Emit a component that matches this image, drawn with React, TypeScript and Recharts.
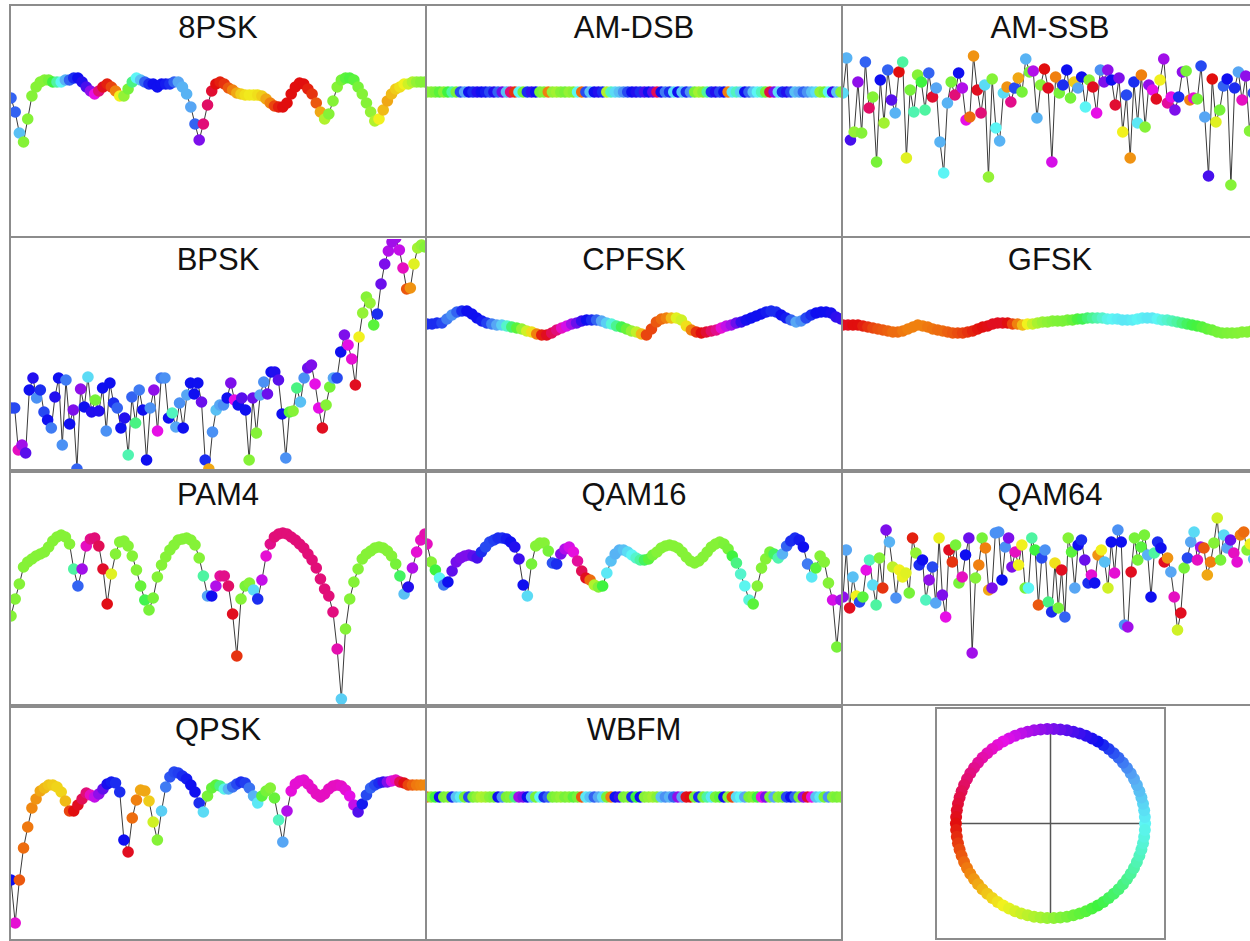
import { LineChart, Line, XAxis, YAxis, ScatterChart, Scatter, ReferenceLine } from 'recharts';

// amplitude is in plot pixels above the panel floor, hue in degrees (phase colour)

const PSK8_AMP = [
  136, 122, 101, 92, 115, 138, 147, 152, 154, 154,
  152, 152, 152, 154, 154, 156, 156, 152, 147, 143,
  140, 143, 147, 150, 147, 143, 138, 138, 145, 152,
  156, 154, 152, 150, 150, 147, 150, 150, 150, 152,
  152, 147, 140, 127, 110, 94, 110, 129, 143, 150,
  152, 150, 146, 144, 141, 140, 139, 139, 139, 139,
  138, 135, 131, 128, 127, 127, 131, 140, 147, 151,
  150, 145, 140, 131, 122, 115, 120, 133, 147, 154,
  156, 156, 154, 147, 140, 131, 122, 113, 115, 124,
  133, 140, 145, 147, 150, 150, 152, 152, 152, 152,
];
const PSK8_HUE = [
  225, 225, 200, 95, 95, 95, 95, 95, 95, 100,
  120, 150, 180, 205, 225, 235, 240, 245, 255, 275,
  300, 330, 355, 5, 15, 30, 60, 90, 100, 140,
  180, 200, 225, 235, 240, 240, 240, 238, 235, 225,
  210, 205, 205, 210, 225, 270, 330, 335, 350, 0,
  5, 10, 20, 30, 40, 50, 55, 58, 58, 55,
  50, 40, 30, 15, 5, 0, 0, 0, 0, 0,
  0, 5, 10, 20, 40, 80, 95, 95, 95, 100,
  110, 115, 110, 100, 95, 95, 90, 80, 60, 45,
  40, 45, 50, 55, 60, 70, 80, 90, 95, 95,
];

const AMDSB_AMP = [
  142, 142, 142, 142, 142, 142, 142, 142, 142, 142,
  142, 142, 142, 142, 142, 142, 142, 142, 142, 142,
  142, 142, 142, 142, 142, 142, 142, 142, 142, 142,
  142, 142, 142, 142, 142, 142, 142, 142, 142, 142,
  142, 142, 142, 142, 142, 142, 142, 142, 142, 142,
  142, 142, 142, 142, 142, 142, 142, 142, 142, 142,
  142, 142, 142, 142, 142, 142, 142, 142, 142, 142,
  142, 142, 142, 142, 142, 142, 142, 142, 142, 142,
  142, 142, 142, 142, 142, 142, 142, 142, 142, 142,
  142, 142, 142, 142, 142, 142, 142, 142, 142, 142,
];
const AMDSB_HUE = [
  95, 95, 100, 110, 95, 120, 150, 100, 230, 210,
  240, 235, 245, 240, 238, 230, 245, 225, 265, 200,
  330, 10, 180, 100, 235, 250, 240, 100, 95, 30,
  90, 85, 95, 100, 90, 95, 180, 25, 230, 200,
  240, 245, 235, 80, 160, 190, 200, 215, 230, 240,
  245, 235, 255, 240, 260, 340, 240, 220, 235, 190,
  240, 200, 235, 215, 100, 85, 95, 150, 235, 245,
  230, 240, 30, 185, 160, 195, 240, 225, 200, 180,
  160, 100, 345, 270, 190, 235, 245, 230, 200, 210,
  225, 215, 200, 190, 90, 100, 180, 250, 200, 95,
];

const AMSSB_AMP = [
  141, 176, 94, 102, 152, 101, 172, 126, 137, 72,
  154, 111, 164, 134, 121, 162, 172, 76, 144, 122,
  159, 152, 124, 161, 137, 146, 92, 61, 131, 152,
  139, 161, 146, 114, 117, 178, 144, 121, 149, 57,
  155, 106, 93, 141, 147, 132, 146, 156, 142, 175,
  162, 163, 116, 149, 165, 146, 72, 157, 141, 149,
  164, 136, 152, 146, 157, 127, 154, 147, 121, 164,
  152, 164, 154, 129, 156, 102, 139, 76, 152, 111,
  159, 107, 149, 144, 135, 154, 175, 131, 137, 124,
  137, 162, 163, 134, 136, 135, 168, 117, 58, 155,
  112, 124, 148, 155, 49, 146, 162, 134, 158, 103,
  141, 150,
];
const AMSSB_HUE = [
  190, 205, 255, 90, 275, 95, 225, 335, 95, 100,
  240, 85, 225, 260, 205, 0, 150, 65, 100, 155,
  95, 120, 150, 225, 350, 210, 205, 180, 205, 100,
  330, 240, 285, 300, 25, 35, 355, 330, 190, 90,
  95, 180, 205, 190, 35, 325, 230, 40, 100, 205,
  100, 285, 205, 95, 0, 355, 295, 30, 100, 235,
  240, 100, 50, 210, 240, 180, 95, 355, 300, 215,
  270, 275, 240, 350, 270, 60, 230, 35, 235, 185,
  30, 95, 275, 300, 355, 60, 280, 320, 300, 270,
  235, 275, 100, 30, 305, 100, 230, 210, 255, 0,
  65, 100, 225, 240, 95, 235, 210, 310, 275, 95,
  230, 200,
];

const BPSK_AMP = [
  61, 61, 19, 24, 16, 79, 91, 71, 79, 57,
  49, 41, 72, 91, 24, 89, 45, 59, 0, 80,
  62, 92, 57, 69, 58, 81, 38, 86, 66, 61,
  41, 51, 14, 72, 46, 79, 59, 9, 61, 79,
  38, 91, 91, 51, 56, 42, 66, 41, 74, 86,
  75, 86, 67, 9, 0, 37, 59, 64, 64, 71,
  86, 69, 64, 71, 59, 9, 71, 36, 74, 87,
  75, 97, 97, 89, 55, 11, 57, 58, 81, 67,
  91, 101, 104, 85, 61, 41, 64, 82, 91, 91,
  117, 134, 124, 110, 84, 132, 156, 172, 166, 144,
  155, 185, 205, 218, 227, 231, 219, 201, 180, 181,
  205, 221, 224, 222,
];
const BPSK_HUE = [
  230, 230, 310, 280, 260, 240, 245, 215, 235, 230,
  240, 220, 245, 240, 215, 220, 240, 270, 225, 275,
  240, 190, 245, 100, 245, 240, 215, 240, 235, 225,
  240, 245, 155, 225, 140, 220, 240, 240, 215, 275,
  300, 220, 215, 240, 160, 210, 215, 240, 210, 240,
  240, 240, 265, 235, 40, 215, 200, 210, 215, 240,
  270, 300, 240, 260, 240, 95, 265, 95, 210, 215,
  265, 240, 245, 260, 240, 215, 110, 95, 140, 200,
  215, 265, 270, 300, 300, 355, 95, 100, 210, 230,
  240, 270, 300, 305, 355, 60, 90, 95, 90, 110,
  235, 265, 270, 285, 280, 280, 290, 310, 20, 35,
  65, 85, 90, 95,
];

const CPFSK_AMP = [
  145, 145, 146, 146, 150, 154, 157, 158, 158, 155,
  151, 148, 146, 145, 144, 144, 143, 142, 141, 140,
  138, 137, 135, 134, 134, 136, 139, 141, 143, 145,
  146, 148, 149, 149, 149, 148, 146, 145, 143, 142,
  140, 138, 137, 135, 134, 140, 147, 150, 151, 151,
  151, 149, 143, 139, 137, 136, 137, 138, 139, 141,
  143, 144, 146, 147, 149, 151, 153, 155, 157, 158,
  157, 154, 151, 149, 147, 148, 151, 154, 156, 157,
  157, 156, 152, 150,
];
const CPFSK_HUE = [
  235, 235, 235, 230, 220, 215, 225, 235, 240, 240,
  240, 238, 232, 220, 210, 195, 165, 135, 110, 90,
  70, 55, 30, 5, 355, 340, 330, 310, 295, 280,
  265, 250, 240, 235, 225, 210, 195, 170, 145, 125,
  105, 90, 75, 45, 15, 15, 20, 25, 30, 45,
  65, 70, 55, 30, 10, 0, 350, 335, 325, 305,
  290, 280, 265, 250, 242, 240, 240, 240, 238, 235,
  235, 240, 238, 225, 210, 215, 230, 235, 240, 240,
  240, 242, 248, 250,
];

const GFSK_AMP = [
  144, 144, 144, 144, 143, 142, 141, 140, 139, 138,
  137, 137, 138, 140, 142, 144, 143, 142, 140, 139,
  138, 137, 136, 136, 136, 137, 138, 140, 142, 143,
  145, 146, 146, 146, 145, 145, 144, 145, 145, 146,
  147, 147, 148, 148, 148, 149, 149, 150, 150, 151,
  151, 151, 151, 150, 150, 150, 149, 149, 149, 150,
  151, 151, 151, 150, 149, 149, 148, 147, 146, 145,
  144, 143, 142, 140, 139, 137, 136, 136, 136, 136,
  137, 137, 138, 138,
];
const GFSK_HUE = [
  355, 355, 0, 0, 5, 10, 15, 18, 20, 22,
  25, 25, 28, 30, 30, 30, 30, 28, 27, 25,
  25, 22, 20, 17, 14, 10, 6, 2, 0, 358,
  355, 355, 355, 0, 15, 30, 45, 60, 72, 82,
  88, 92, 95, 97, 98, 100, 105, 115, 125, 135,
  145, 155, 165, 175, 180, 183, 185, 185, 183, 180,
  182, 185, 185, 180, 172, 165, 158, 150, 140, 130,
  123, 118, 112, 108, 104, 101, 100, 98, 97, 96,
  95, 95, 95, 95,
];

const PAM4_AMP = [
  88, 105, 120, 137, 142, 145, 148, 150, 152, 157,
  163, 167, 169, 167, 160, 135, 118, 135, 158, 165,
  166, 158, 135, 100, 130, 150, 162, 163, 158, 148,
  134, 118, 104, 94, 106, 127, 139, 147, 154, 159,
  164, 165, 166, 164, 159, 146, 128, 108, 108, 118,
  128, 128, 118, 90, 48, 105, 118, 121, 114, 105,
  124, 148, 160, 167, 170, 171, 170, 167, 164, 160,
  156, 150, 144, 136, 125, 115, 108, 92, 55, 5,
  75, 105, 122, 135, 145, 150, 153, 156, 157, 156,
  153, 148, 140, 128, 110, 117, 136, 152, 164, 170,
];
const PAM4_HUE = [
  95, 95, 95, 95, 95, 95, 95, 95, 95, 95,
  95, 95, 95, 95, 95, 150, 225, 280, 310, 325,
  330, 340, 352, 358, 65, 95, 95, 95, 95, 95,
  95, 105, 125, 100, 100, 95, 95, 95, 95, 95,
  95, 95, 95, 95, 95, 95, 150, 210, 240, 285,
  320, 325, 335, 355, 10, 95, 100, 95, 190, 235,
  290, 305, 325, 330, 330, 330, 330, 330, 330, 330,
  330, 330, 330, 330, 330, 330, 330, 328, 315, 195,
  95, 95, 95, 95, 95, 95, 95, 95, 95, 95,
  95, 95, 100, 130, 200, 245, 285, 305, 310, 315,
];

const QAM16_AMP = [
  160, 142, 134, 126, 119, 122, 133, 142, 146, 148,
  149, 148, 146, 152, 157, 162, 164, 166, 166, 165,
  162, 157, 145, 119, 108, 140, 158, 161, 161, 153,
  141, 140, 150, 155, 157, 152, 143, 133, 126, 124,
  119, 117, 118, 131, 143, 150, 154, 154, 152, 149,
  146, 144, 144, 145, 149, 152, 156, 158, 159, 158,
  156, 152, 147, 143, 141, 143, 147, 152, 157, 160,
  162, 160, 155, 148, 141, 130, 118, 104, 100, 118,
  136, 145, 152, 150, 146, 150, 158, 163, 166, 164,
  157, 140, 127, 136, 148, 142, 121, 104, 57, 104,
];
const QAM16_HUE = [
  310, 95, 120, 180, 220, 240, 262, 268, 270, 270,
  270, 262, 255, 235, 230, 230, 232, 235, 235, 238,
  240, 245, 252, 240, 190, 100, 95, 95, 95, 100,
  228, 235, 270, 285, 295, 302, 320, 340, 355, 25,
  80, 95, 120, 185, 200, 205, 205, 200, 190, 180,
  165, 150, 130, 110, 100, 95, 95, 95, 95, 95,
  95, 95, 95, 95, 95, 95, 95, 95, 95, 95,
  95, 98, 100, 120, 140, 165, 178, 170, 110, 95,
  95, 95, 100, 130, 155, 205, 225, 235, 235, 238,
  240, 220, 185, 110, 95, 95, 95, 295, 100, 280,
];

const QAM64_AMP = [
  107, 154, 96, 127, 108, 102, 107, 134, 144, 119,
  99, 146, 116, 174, 162, 137, 106, 134, 127, 131,
  111, 166, 151, 139, 144, 104, 124, 137, 101, 166,
  109, 87, 154, 142, 159, 121, 127, 149, 166, 51,
  126, 139, 166, 156, 114, 116, 171, 172, 124, 157,
  166, 137, 152, 139, 159, 116, 116, 166, 154, 99,
  146, 154, 102, 92, 141, 96, 134, 87, 166, 152,
  116, 159, 164, 144, 121, 129, 121, 149, 154, 142,
  116, 162, 131, 174, 162, 79, 77, 132, 166, 144,
  157, 169, 149, 107, 151, 162, 156, 142, 146, 132,
  107, 74, 91, 136, 146, 162, 172, 144, 157, 156,
  129, 142, 161, 186, 144, 169, 156, 164, 151, 142,
  169, 172, 154, 160, 145, 150,
];
const QAM64_HUE = [
  275, 210, 355, 200, 60, 230, 110, 300, 160, 190,
  150, 95, 10, 270, 205, 75, 215, 60, 62, 65,
  100, 5, 90, 235, 240, 160, 275, 230, 210, 62,
  270, 300, 355, 10, 100, 100, 310, 240, 265, 280,
  95, 30, 100, 30, 40, 270, 215, 215, 240, 215,
  270, 270, 310, 60, 60, 100, 180, 150, 120, 20,
  230, 215, 140, 235, 55, 100, 355, 225, 95, 110,
  210, 240, 235, 265, 235, 305, 240, 35, 60, 200,
  70, 240, 305, 215, 240, 215, 280, 355, 100, 100,
  110, 100, 205, 240, 150, 235, 240, 355, 35, 210,
  310, 70, 355, 100, 230, 210, 190, 310, 280, 20,
  40, 30, 95, 70, 100, 190, 210, 265, 310, 305,
  30, 25, 95, 60, 200, 280,
];

const QPSK_AMP = [
  59, 16, 59, 91, 112, 131, 140, 148, 151, 154,
  154, 152, 147, 138, 128, 128, 134, 140, 146, 144,
  142, 145, 150, 155, 157, 156, 147, 99, 87, 121,
  139, 149, 148, 138, 117, 99, 128, 152, 162, 167,
  166, 163, 160, 154, 147, 136, 127, 143, 151, 154,
  153, 150, 150, 152, 155, 157, 156, 151, 143, 136,
  143, 148, 151, 141, 119, 97, 128, 148, 155, 158,
  159, 155, 150, 145, 142, 145, 150, 153, 154, 153,
  149, 143, 134, 127, 135, 144, 151, 154, 156, 157,
  157, 158, 159, 157, 156, 154, 154, 154, 154, 154,
];
const QPSK_HUE = [
  240, 305, 20, 25, 28, 32, 35, 40, 45, 48,
  50, 52, 52, 45, 15, 0, 355, 340, 330, 310,
  290, 275, 262, 242, 238, 235, 235, 240, 355, 25,
  30, 40, 40, 50, 70, 95, 195, 220, 228, 230,
  232, 235, 238, 240, 240, 235, 190, 100, 105, 110,
  140, 175, 205, 222, 230, 235, 232, 222, 205, 185,
  110, 100, 95, 105, 160, 210, 285, 303, 305, 305,
  305, 307, 308, 310, 310, 310, 310, 310, 310, 308,
  305, 300, 290, 258, 238, 230, 225, 230, 235, 250,
  270, 295, 310, 340, 358, 15, 22, 28, 30, 32,
];

const WBFM_AMP = [
  142, 142, 142, 142, 142, 142, 142, 142, 142, 142,
  142, 142, 142, 142, 142, 142, 142, 142, 142, 142,
  142, 142, 142, 142, 142, 142, 142, 142, 142, 142,
  142, 142, 142, 142, 142, 142, 142, 142, 142, 142,
  142, 142, 142, 142, 142, 142, 142, 142, 142, 142,
  142, 142, 142, 142, 142, 142, 142, 142, 142, 142,
  142, 142, 142, 142, 142, 142, 142, 142, 142, 142,
  142, 142, 142, 142, 142, 142, 142, 142, 142, 142,
  142, 142, 142, 142, 142, 142, 142, 142, 142, 142,
  142, 142, 142, 142, 142, 142, 142, 142, 142, 142,
];
const WBFM_HUE = [
  30, 95, 120, 240, 100, 95, 235, 200, 185, 100,
  230, 100, 90, 80, 85, 95, 100, 240, 215, 100,
  95, 140, 280, 270, 240, 200, 100, 180, 235, 225,
  100, 95, 90, 100, 95, 110, 100, 20, 185, 200,
  225, 210, 190, 100, 30, 240, 250, 100, 95, 235,
  120, 240, 95, 90, 85, 95, 200, 215, 205, 225,
  275, 210, 355, 0, 100, 235, 100, 150, 185, 100,
  110, 240, 95, 15, 190, 180, 210, 100, 95, 120,
  300, 270, 100, 210, 95, 100, 230, 240, 225, 100,
  275, 350, 300, 200, 185, 100, 215, 95, 100, 95,
];

// phase legend: sample angles around the unit circle (degrees)
const WHEEL_ANGLES = [
  0, 4, 8, 12, 16, 20, 24, 28, 32, 36, 40, 44, 48, 52, 56, 60, 64, 68, 72, 76,
  80, 84, 88, 92, 96, 100, 104, 108, 112, 116, 120, 124, 128, 132, 136, 140, 144, 148, 152, 156,
  160, 164, 168, 172, 176, 180, 184, 188, 192, 196, 200, 204, 208, 212, 216, 220, 224, 228, 232, 236,
  240, 244, 248, 252, 256, 260, 264, 268, 272, 276, 280, 284, 288, 292, 296, 300, 304, 308, 312, 316,
  320, 324, 328, 332, 336, 340, 344, 348, 352, 356,
];

const PANELS = [
  { title: '8PSK', amp: PSK8_AMP, hue: PSK8_HUE, row: 0, col: 0 },
  { title: 'AM-DSB', amp: AMDSB_AMP, hue: AMDSB_HUE, row: 0, col: 1 },
  { title: 'AM-SSB', amp: AMSSB_AMP, hue: AMSSB_HUE, row: 0, col: 2 },
  { title: 'BPSK', amp: BPSK_AMP, hue: BPSK_HUE, row: 1, col: 0 },
  { title: 'CPFSK', amp: CPFSK_AMP, hue: CPFSK_HUE, row: 1, col: 1 },
  { title: 'GFSK', amp: GFSK_AMP, hue: GFSK_HUE, row: 1, col: 2 },
  { title: 'PAM4', amp: PAM4_AMP, hue: PAM4_HUE, row: 2, col: 0 },
  { title: 'QAM16', amp: QAM16_AMP, hue: QAM16_HUE, row: 2, col: 1 },
  { title: 'QAM64', amp: QAM64_AMP, hue: QAM64_HUE, row: 2, col: 2 },
  { title: 'QPSK', amp: QPSK_AMP, hue: QPSK_HUE, row: 3, col: 0 },
  { title: 'WBFM', amp: WBFM_AMP, hue: WBFM_HUE, row: 3, col: 1 },
];

const COL_LEFT = [9, 425, 841];
const ROW_TOP = [4, 236, 471, 706];
const FLOOR_Y = [234, 469, 704, 939];
const INNER_W = 414;
const INNER_H = 231;
const BORDER = 2;
const PLOT_H = 230;
const DOT_R = 5.8;
const FRAME = '#8c8c8c';
const RAD = Math.PI / 180;

const LIGHTNESS: [number, number][] = [
  [0, 47], [30, 50], [60, 53], [90, 58], [120, 60], [180, 66],
  [210, 65], [240, 50], [270, 49], [300, 48], [330, 47], [360, 47],
];

function hueColor(h: number) {
  const hh = ((h % 360) + 360) % 360;
  let l = 47;
  for (let k = 1; k < LIGHTNESS.length; k++) {
    const [h0, l0] = LIGHTNESS[k - 1];
    const [h1, l1] = LIGHTNESS[k];
    if (hh <= h1) {
      l = l0 + ((l1 - l0) * (hh - h0)) / (h1 - h0);
      break;
    }
  }
  return `hsl(${hh.toFixed(0)}, 88%, ${l.toFixed(1)}%)`;
}

function renderDot(props: any) {
  const { cx, cy, index, payload } = props;
  if (cx == null || cy == null) return <g key={`n${index}`} />;
  return <circle key={`d${index}`} cx={cx} cy={cy} r={DOT_R} fill={hueColor(payload.h)} stroke="none" />;
}

function renderWheelDot(props: any) {
  const { cx, cy, payload } = props;
  return <circle cx={cx} cy={cy} r={6} fill={hueColor(payload.h)} stroke="none" />;
}

interface PanelProps {
  title: string;
  amp: number[];
  hue: number[];
  row: number;
  col: number;
}

function SignalPanel({ title, amp, hue, row, col }: PanelProps) {
  const data = amp.map((v, i) => ({ i, v, h: hue[i] }));
  const top = ROW_TOP[row];
  const chartTop = FLOOR_Y[row] - PLOT_H - (top + BORDER);
  return (
    <div
      style={{
        position: 'absolute',
        left: COL_LEFT[col],
        top,
        width: INNER_W,
        height: INNER_H,
        border: `${BORDER}px solid ${FRAME}`,
        background: '#fff',
        overflow: 'hidden',
      }}
    >
      <div style={{ position: 'absolute', left: 0, top: chartTop }}>
        <LineChart width={INNER_W} height={PLOT_H} data={data} margin={{ top: 0, right: 0, bottom: 0, left: 0 }}>
          <XAxis dataKey="i" type="number" domain={[0, amp.length - 1]} hide allowDataOverflow />
          <YAxis type="number" domain={[0, PLOT_H]} hide allowDataOverflow />
          <Line
            dataKey="v"
            stroke="#3a3a3a"
            strokeWidth={1}
            dot={renderDot}
            activeDot={false}
            isAnimationActive={false}
          />
        </LineChart>
      </div>
      <div
        style={{
          position: 'absolute',
          left: 0,
          top: 6,
          width: '100%',
          textAlign: 'center',
          fontSize: 31,
          lineHeight: '31px',
          color: '#111',
        }}
      >
        {title}
      </div>
    </div>
  );
}

function PhaseWheel() {
  const data = WHEEL_ANGLES.map((a) => ({ x: Math.cos(a * RAD), y: Math.sin(a * RAD), h: a + 180 }));
  return (
    <div
      style={{
        position: 'absolute',
        left: 935,
        top: 707,
        width: 227,
        height: 229,
        border: `${BORDER}px solid ${FRAME}`,
        background: '#fff',
      }}
    >
      <ScatterChart width={227} height={229} margin={{ top: 0, right: 0, bottom: 0, left: 0 }}>
        <XAxis dataKey="x" type="number" domain={[-1.2, 1.2]} hide allowDataOverflow />
        <YAxis dataKey="y" type="number" domain={[-1.21, 1.21]} hide allowDataOverflow />
        <ReferenceLine segment={[{ x: -0.97, y: 0 }, { x: 0.97, y: 0 }]} stroke="#555" strokeWidth={1.5} />
        <ReferenceLine segment={[{ x: 0, y: -0.97 }, { x: 0, y: 0.97 }]} stroke="#555" strokeWidth={1.5} />
        <Scatter data={data} shape={renderWheelDot} isAnimationActive={false} />
      </ScatterChart>
    </div>
  );
}

export default function App() {
  return (
    <div
      style={{
        position: 'absolute',
        left: 0,
        top: 0,
        width: 1250,
        height: 941,
        overflow: 'hidden',
        background: '#fff',
        fontFamily: '"Liberation Sans", Arial, Helvetica, sans-serif',
      }}
    >
      {PANELS.map((p) => (
        <SignalPanel key={p.title} {...p} />
      ))}
      <PhaseWheel />
    </div>
  );
}
